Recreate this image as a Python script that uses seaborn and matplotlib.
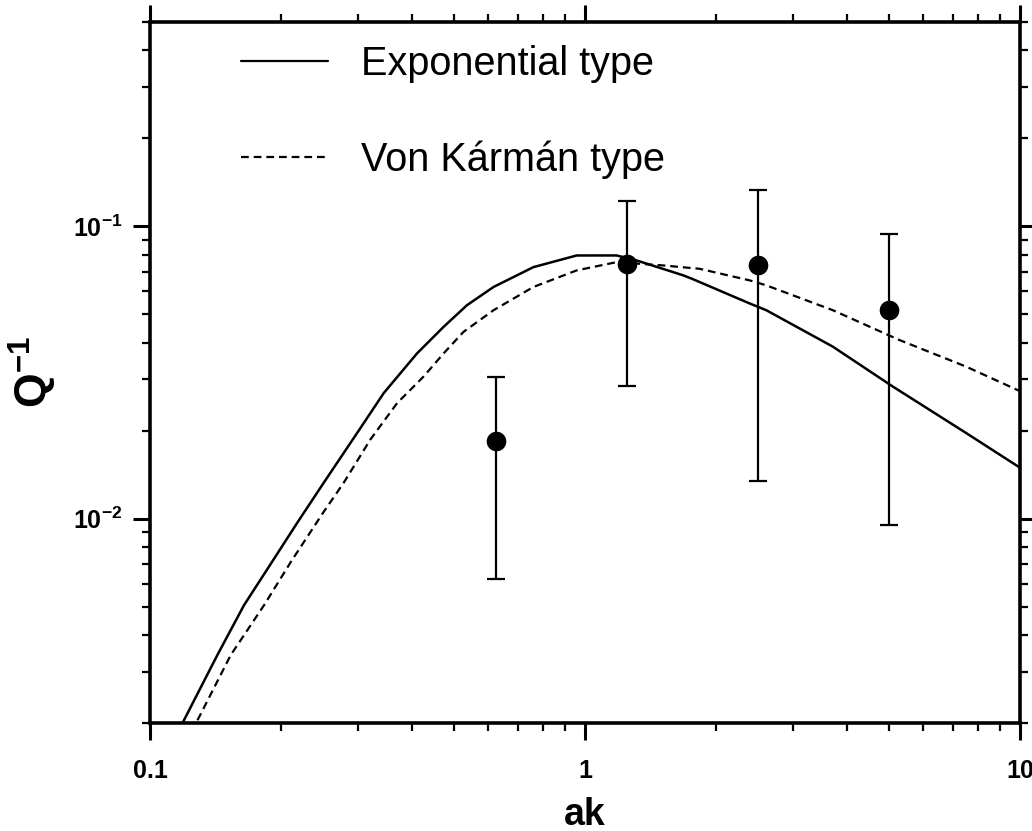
import numpy as np
import pandas as pd
import matplotlib
matplotlib.use("Agg")
import matplotlib.pyplot as plt
import seaborn as sns
from matplotlib.ticker import FixedLocator, FixedFormatter, LogLocator, NullFormatter

# ---- data ----
ak_exp = [0.100, 0.121, 0.1429, 0.1645, 0.1928, 0.2183, 0.2510, 0.2995, 0.3446,
          0.4111, 0.4732, 0.5355, 0.6163, 0.7612, 0.957, 1.182, 1.314, 1.681,
          1.760, 2.389, 2.610, 3.711, 5.095, 7.508, 10.0]
q_exp = [0.00121, 0.00211, 0.00342, 0.00506, 0.00729, 0.00971, 0.01329, 0.01966,
         0.02689, 0.03677, 0.04533, 0.05374, 0.06203, 0.07253, 0.07949, 0.0795,
         0.07644, 0.0680, 0.0662, 0.0545, 0.05166, 0.03878, 0.02834, 0.01966, 0.01494]

ak_vk = [0.100, 0.1300, 0.1534, 0.1829, 0.2106, 0.2489, 0.2790, 0.3212, 0.3700,
         0.4257, 0.4732, 0.5260, 0.6163, 0.7612, 0.957, 1.182, 1.512, 1.835,
         2.389, 2.610, 3.711, 5.278, 7.508, 10.0]
q_vk = [0.00101, 0.00211, 0.00342, 0.00506, 0.0071, 0.01038, 0.01329, 0.01867,
        0.02486, 0.03065, 0.03677, 0.04359, 0.05166, 0.06203, 0.07068, 0.07543,
        0.07350, 0.07157, 0.06535, 0.06284, 0.05166, 0.04086, 0.03315, 0.0273]

ak_obs = [0.625, 1.25, 2.5, 5.0]
q_obs = [0.0184, 0.0744, 0.0735, 0.0516]
q_low = [0.0062, 0.0285, 0.0135, 0.0095]
q_high = [0.0306, 0.122, 0.133, 0.094]

x_ticks = [0.1, 1, 10]
x_ticklabels = ["0.1", "1", "10"]
y_ticks = [0.01, 0.1]
y_ticklabels = [r"$\mathbf{10^{-2}}$", r"$\mathbf{10^{-1}}$"]
label_exp = "Exponential type"
label_vk = "Von Kármán type"

# ---- style ----
sns.set_style("ticks")
plt.rcParams["font.family"] = ["Liberation Sans", "DejaVu Sans"]
plt.rcParams["mathtext.fontset"] = "custom"
plt.rcParams["mathtext.rm"] = "Liberation Sans"
plt.rcParams["mathtext.bf"] = "Liberation Sans:bold"
plt.rcParams["mathtext.it"] = "Liberation Sans:italic"
for k in ["text.color", "axes.labelcolor", "xtick.color", "ytick.color", "axes.edgecolor"]:
    plt.rcParams[k] = "black"

fig = plt.figure(figsize=(10.32, 8.31), dpi=100)
ax = fig.add_axes([150 / 1032, 1 - 723 / 831, (1020 - 150) / 1032, (723 - 22) / 831])

df_exp = pd.DataFrame({"ak": ak_exp, "q": q_exp})
df_vk = pd.DataFrame({"ak": ak_vk, "q": q_vk})
df_obs = pd.DataFrame({"ak": ak_obs, "q": q_obs})

sns.lineplot(data=df_exp, x="ak", y="q", ax=ax, color="black", lw=1.8,
             label=label_exp, sort=False)
sns.lineplot(data=df_vk, x="ak", y="q", ax=ax, color="black", lw=1.6,
             label=label_vk, sort=False, dashes=False)
ax.lines[-1].set_dashes((3.5, 2.2))

yerr = [np.array(q_obs) - np.array(q_low), np.array(q_high) - np.array(q_obs)]
ax.errorbar(ak_obs, q_obs, yerr=yerr, fmt="none", ecolor="black", elinewidth=1.6,
            capsize=6.5, capthick=1.6, zorder=3)
sns.scatterplot(data=df_obs, x="ak", y="q", ax=ax, color="black", s=200,
                edgecolor="black", linewidth=0, zorder=4, legend=False)

ax.set_xscale("log")
ax.set_yscale("log")
ax.set_xlim(0.1, 10)
ax.set_ylim(0.002, 0.5)

ax.xaxis.set_major_locator(FixedLocator(x_ticks))
ax.xaxis.set_major_formatter(FixedFormatter(x_ticklabels))
ax.xaxis.set_minor_locator(LogLocator(base=10, subs=np.arange(2, 10)))
ax.xaxis.set_minor_formatter(NullFormatter())
ax.yaxis.set_major_locator(FixedLocator(y_ticks))
ax.yaxis.set_major_formatter(FixedFormatter(y_ticklabels))
ax.yaxis.set_minor_locator(LogLocator(base=10, subs=np.arange(2, 10)))
ax.yaxis.set_minor_formatter(NullFormatter())

ax.tick_params(which="major", direction="out", length=12, width=2.2,
               top=True, right=True, labelsize=18, pad=8)
ax.tick_params(which="minor", direction="out", length=6, width=1.6,
               top=True, right=True)
for lab in ax.get_xticklabels():
    lab.set_fontweight("bold")
ax.tick_params(axis="x", pad=14)

for sp in ax.spines.values():
    sp.set_linewidth(2.6)
    sp.set_visible(True)

ax.set_xlabel("ak", fontsize=27, fontweight="bold", labelpad=10)
ax.set_ylabel(r"$\mathbf{Q^{-1}}$", fontsize=32, labelpad=10)

leg = ax.legend(loc="upper left", bbox_to_anchor=(0.086, 0.99), frameon=False,
                fontsize=28.5, handlelength=2.2, handletextpad=0.85,
                labelspacing=1.45, borderaxespad=0)
for h in leg.get_lines():
    h.set_linewidth(1.6)

fig.savefig("out.png", dpi=100)
